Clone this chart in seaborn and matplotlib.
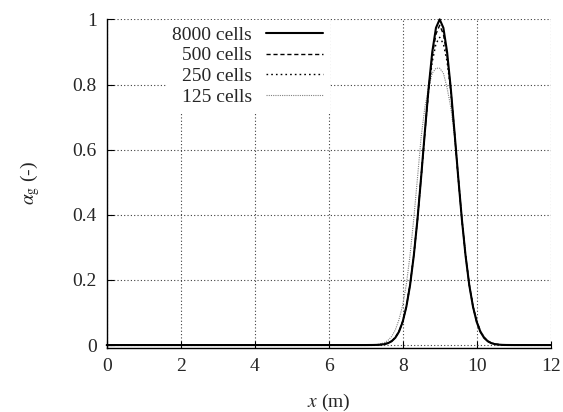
import numpy as np
import pandas as pd
import matplotlib
matplotlib.use("Agg")
import matplotlib.pyplot as plt
from matplotlib.ticker import FuncFormatter
import seaborn as sns

# ---- data ----
x_m = [0.0, 6.5, 7.0, 7.1, 7.2, 7.3, 7.4, 7.5, 7.6, 7.7, 7.8, 7.9,
       8.0, 8.1, 8.2, 8.3, 8.4, 8.5, 8.6, 8.7, 8.8, 8.9,
       9.0, 9.1, 9.2, 9.3, 9.4, 9.5, 9.6, 9.7, 9.8, 9.9,
       10.0, 10.1, 10.2, 10.3, 10.4, 10.5, 10.6, 10.7, 10.8, 10.9,
       11.0, 11.5, 12.0]

alpha_8000 = [0.0, 0.0, 0.0, 0.0001, 0.0002, 0.0005, 0.0012, 0.0026, 0.0056, 0.0115, 0.0223, 0.0409,
              0.0712, 0.118, 0.184, 0.274, 0.386, 0.517, 0.655, 0.788, 0.900, 0.974,
              1.000, 0.974, 0.900, 0.788, 0.655, 0.517, 0.386, 0.274, 0.184, 0.118,
              0.0712, 0.0409, 0.0223, 0.0115, 0.0056, 0.0026, 0.0012, 0.0005, 0.0002, 0.0001,
              0.0, 0.0, 0.0]
alpha_500 = [0.0, 0.0, 0.0, 0.0001, 0.0002, 0.0005, 0.0013, 0.0028, 0.0058, 0.0118, 0.0226, 0.0412,
             0.0715, 0.118, 0.185, 0.275, 0.386, 0.517, 0.654, 0.785, 0.890, 0.955,
             0.982, 0.955, 0.890, 0.785, 0.654, 0.517, 0.386, 0.275, 0.185, 0.118,
             0.0715, 0.0412, 0.0226, 0.0118, 0.0058, 0.0028, 0.0013, 0.0005, 0.0002, 0.0001,
             0.0, 0.0, 0.0]
alpha_250 = [0.0, 0.0, 0.0, 0.0001, 0.0003, 0.0007, 0.0015, 0.0032, 0.0064, 0.0126, 0.0236, 0.0424,
             0.0728, 0.119, 0.186, 0.276, 0.386, 0.516, 0.652, 0.780, 0.870, 0.925,
             0.945, 0.925, 0.870, 0.780, 0.652, 0.516, 0.386, 0.276, 0.186, 0.119,
             0.0728, 0.0424, 0.0236, 0.0126, 0.0064, 0.0032, 0.0015, 0.0007, 0.0003, 0.0001,
             0.0, 0.0, 0.0]
alpha_125 = [0.0, 0.0, 0.0001, 0.0003, 0.0007, 0.0016, 0.0035, 0.007, 0.014, 0.026, 0.046, 0.078,
             0.122, 0.187, 0.277, 0.388, 0.513, 0.64, 0.73, 0.79, 0.835, 0.85,
             0.85, 0.835, 0.79, 0.73, 0.64, 0.513, 0.388, 0.277, 0.187, 0.122,
             0.078, 0.046, 0.026, 0.014, 0.007, 0.0035, 0.0016, 0.0007, 0.0003, 0.0001,
             0.0, 0.0, 0.0]

labels = ["8000 cells", "500 cells", "250 cells", "125 cells"]
series = [alpha_8000, alpha_500, alpha_250, alpha_125]

x_ticks = [0, 2, 4, 6, 8, 10, 12]
y_ticks = [0, 0.2, 0.4, 0.6, 0.8, 1.0]

# ---- style ----
sns.set_style("white")
plt.rcParams["font.family"] = ["Liberation Serif", "DejaVu Serif"]
plt.rcParams["mathtext.fontset"] = "stix"

FS = 14

styles = [
    dict(color="black", linewidth=1.5, linestyle="-", zorder=5),
    dict(color="black", linewidth=1.0, linestyle=(0, (3, 2)), zorder=4),
    dict(color="black", linewidth=1.0, linestyle=(0, (1.2, 2.2)), zorder=3),
    dict(color="0.5", linewidth=0.8, linestyle=(0, (1, 1)), zorder=2),
]

fig = plt.figure(figsize=(5.63, 4.12), dpi=100)
ax = fig.add_axes([0.1895, 0.1546, 0.7886, 0.7984])

for lab, ys, st in zip(labels, series, styles):
    df = pd.DataFrame({"x": x_m, "y": ys})
    sns.lineplot(data=df, x="x", y="y", ax=ax, label=lab, clip_on=False, **st)

ax.set_xlim(0, 12)
ax.set_ylim(-0.01, 1.0)
ax.set_xticks(x_ticks)
ax.set_yticks(y_ticks)
ax.yaxis.set_major_formatter(FuncFormatter(lambda v, p: "%g" % v))
ax.xaxis.set_major_formatter(FuncFormatter(lambda v, p: "%g" % v))

ax.grid(True, color="0.25", linewidth=0.8, linestyle=(0, (1, 2)))
ax.set_axisbelow(True)
for s in ["top", "right"]:
    ax.spines[s].set_visible(False)
for s in ["left", "bottom"]:
    ax.spines[s].set_color("black")
    ax.spines[s].set_linewidth(1.0)

ax.tick_params(axis="both", direction="in", length=5, width=0.8, color="black",
               labelsize=FS, pad=7, left=True, bottom=True)

ax.set_xlabel("$x$ (m)", fontsize=FS)
ax.set_ylabel(r"$\alpha_\mathrm{g}$ (-)", fontsize=FS)
ax.xaxis.set_label_coords(0.5, -0.165)
ax.xaxis.label.set_va("center")
ax.yaxis.set_label_coords(-0.1727, 0.503)
ax.yaxis.label.set_va("center")

leg = ax.legend(loc="upper right", bbox_to_anchor=(330 / 563, 1 - 19.5 / 412),
                bbox_transform=fig.transFigure, markerfirst=False,
                frameon=True, facecolor="white", edgecolor="none", framealpha=1.0,
                fancybox=False, fontsize=FS, handlelength=2.95, handletextpad=0.7,
                labelspacing=0.15, borderpad=0.35, borderaxespad=0)
leg.set_zorder(10)

fig.savefig("out.png", dpi=100)
